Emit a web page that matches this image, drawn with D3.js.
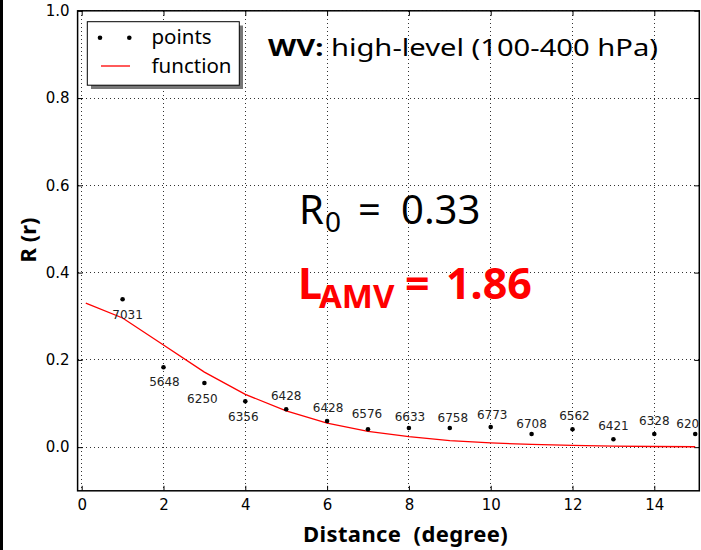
<!DOCTYPE html>
<html><head><meta charset="utf-8">
<script src="https://cdn.jsdelivr.net/npm/d3@7"></script>
<style>body{margin:0;background:#fff;}svg{display:block;}</style>
</head><body>
<svg id="chart" width="701" height="550"></svg>
<script>
// ---- data ----
const pointX = [1,2,3,4,5,6,7,8,9,10,11,12,13,14,15];
const pointR = [0.339,0.183,0.147,0.105,0.087,0.060,0.041,0.044,0.044,0.046,0.030,0.041,0.018,0.030,0.030];
const pointCounts = ["7031","5648","6250","6356","6428","6428","6576","6633","6758","6773","6708","6562","6421","6328","620"];
const funcX = [0.1,1,2,3,4,5,6,7,8,9,10,11,12,13,14,15];
const funcR = [0.330,0.296,0.234,0.172,0.121,0.083,0.055,0.036,0.024,0.015,0.0097,0.0062,0.0039,0.0024,0.0015,0.0009];
const xTicks = [0,2,4,6,8,10,12,14];
const yTicks = [0.0,0.2,0.4,0.6,0.8,1.0];
const R0 = "0.33";
const LAMV = "1.86";

// ---- layout (label offsets in px relative to each point) ----
const labelDx = [5,1,-2,-2,0,1,-1,1,3,1.5,0,2,0,0,-7.5];
const labelDy = [15,14,16,15.4,-13.6,-13.5,-15.5,-11.3,-10.5,-12.8,-10.5,-13.3,-13.3,-13.1,-10.5];

const svg = d3.select("#chart");
const L = 77.6, R = 699.3, T = 10.8, B = 490.8;
const x = d3.scaleLinear().domain([-0.1, 15.1]).range([L, R]);
const y = d3.scaleLinear().domain([-0.1, 1.0]).range([B, T]);

function fitWidth(sel, target){
  const node = sel.node();
  const w = node.getComputedTextLength();
  const n = node.textContent.length;
  if (n > 1) sel.attr("letter-spacing", ((target - w) / (n - 0.5)).toFixed(3));
}

// left black bar
svg.append("rect").attr("x",0).attr("y",0).attr("width",3).attr("height",550).attr("fill","#000");

// grid
const grid = svg.append("g");
xTicks.forEach(t => grid.append("line").attr("x1",x(t)).attr("x2",x(t)).attr("y1",T).attr("y2",B)
  .attr("stroke","#000").attr("stroke-width",1).attr("stroke-dasharray","1,3").attr("shape-rendering","crispEdges").attr("opacity",0.8));
yTicks.forEach(t => grid.append("line").attr("x1",L).attr("x2",R).attr("y1",y(t)).attr("y2",y(t))
  .attr("stroke","#000").attr("stroke-width",1).attr("stroke-dasharray","1,3").attr("shape-rendering","crispEdges").attr("opacity",0.8));

// axes with inward ticks
const axB = d3.axisBottom(x).tickValues(xTicks).tickSizeInner(-5).tickSizeOuter(0).tickPadding(9).tickFormat(d3.format("d"));
const axL = d3.axisLeft(y).tickValues(yTicks).tickSizeInner(-5).tickSizeOuter(0).tickPadding(8).tickFormat(d3.format(".1f"));
const axT = d3.axisTop(x).tickValues(xTicks).tickSizeInner(-5).tickSizeOuter(0).tickFormat("");
const axR = d3.axisRight(y).tickValues(yTicks).tickSizeInner(-5).tickSizeOuter(0).tickFormat("");
function styleAx(g){
  g.select(".domain").remove();
  g.selectAll(".tick line").attr("stroke","#000").attr("stroke-width",1);
  g.selectAll("text").attr("font-family","DejaVu Sans").attr("font-size",15).attr("fill","#000");
}
svg.append("g").attr("transform",`translate(0,${B})`).call(axB).call(styleAx);
svg.append("g").attr("transform",`translate(${L},0)`).call(axL).call(styleAx);
svg.append("g").attr("transform",`translate(0,${T})`).call(axT).call(styleAx);
svg.append("g").attr("transform",`translate(${R},0)`).call(axR).call(styleAx);

// function line
const line = d3.line().x((d,i)=>x(funcX[i])).y(d=>y(d));
svg.append("path").datum(funcR).attr("d",line).attr("fill","none").attr("stroke","#ff0000").attr("stroke-width",1.3);

// points
svg.append("g").selectAll("circle").data(pointR).join("circle")
  .attr("cx",(d,i)=>x(pointX[i])).attr("cy",d=>y(d)).attr("r",2.3).attr("fill","#000");

// point labels
svg.append("g").selectAll("text").data(pointCounts).join("text")
  .attr("x",(d,i)=>x(pointX[i])+labelDx[i]).attr("y",(d,i)=>y(pointR[i])+labelDy[i]+4.4)
  .attr("text-anchor","middle").attr("font-family","DejaVu Sans").attr("font-size",12).attr("fill","#222")
  .text(d=>d);

// frame
svg.append("rect").attr("x",L).attr("y",T).attr("width",R-L).attr("height",B-T)
  .attr("fill","none").attr("stroke","#000").attr("stroke-width",1.5);

// axis labels
const xl = svg.append("text").attr("x",303).attr("y",542)
  .attr("font-family","Noto Sans").attr("font-weight","bold").attr("font-size",22).attr("fill","#000")
  .style("white-space","pre").text("Distance  (degree)");
fitWidth(xl, 205);
svg.append("text").attr("transform","translate(35.5,240) rotate(-90)").attr("text-anchor","middle")
  .attr("font-family","Noto Sans").attr("font-weight","bold").attr("font-size",22).attr("fill","#000").text("R (r)");

// title
const tt = svg.append("text").attr("x",268).attr("y",56).attr("font-family","Noto Sans").attr("font-size",24).attr("fill","#000")
  .style("white-space","pre").attr("textLength",390).attr("lengthAdjust","spacingAndGlyphs");
tt.append("tspan").attr("font-weight","bold").text("WV:");
tt.append("tspan").text(" high-level (100-400 hPa)");

// R0 annotation
const r0 = svg.append("text").attr("y",224).attr("font-family","Noto Sans").attr("font-size",40).attr("fill","#000");
r0.append("tspan").attr("x",299).text("R");
r0.append("tspan").attr("x",325).attr("font-size",28).attr("dy",8).text("0");
r0.append("tspan").attr("x",358).attr("dy",-8).text("=");
r0.append("tspan").attr("x",401).text(R0);

// LAMV annotation
const la = svg.append("text").attr("y",299).attr("font-family","Noto Sans").attr("font-weight","bold").attr("font-size",43).attr("fill","#ff0000");
la.append("tspan").attr("x",298).text("L");
la.append("tspan").attr("x",319).attr("font-size",33).attr("dy",9).text("AMV");
la.append("tspan").attr("x",405).attr("dy",-9).text("=");
la.append("tspan").attr("x",446).text(LAMV);

// legend
const lg = svg.append("g");
lg.append("rect").attr("x",91).attr("y",25.5).attr("width",152).attr("height",63.5).attr("fill","#777");
lg.append("rect").attr("x",87.3).attr("y",21.7).attr("width",152).attr("height",63.5).attr("fill","#fff").attr("stroke","#000").attr("stroke-width",1);
[100,129.3].forEach(cx => lg.append("circle").attr("cx",cx).attr("cy",37.7).attr("r",2.3).attr("fill","#000"));
lg.append("line").attr("x1",101).attr("x2",130).attr("y1",66).attr("y2",66).attr("stroke","#ff0000").attr("stroke-width",1.3);
lg.append("text").attr("x",151.5).attr("y",44).attr("font-family","Noto Sans").attr("font-size",20.5).attr("fill","#000").text("points");
lg.append("text").attr("x",151.5).attr("y",73).attr("font-family","Noto Sans").attr("font-size",20.5).attr("fill","#000").text("function");
</script>
</body></html>
